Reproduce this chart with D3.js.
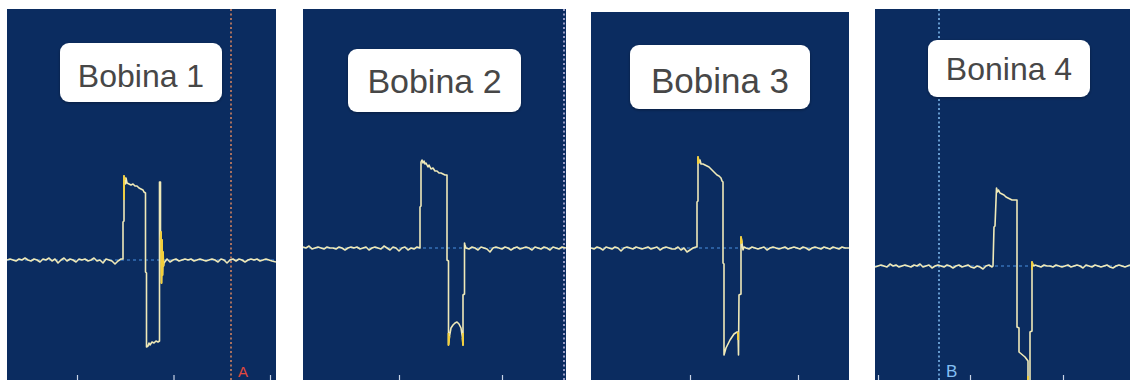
<!DOCTYPE html>
<html>
<head>
<meta charset="utf-8">
<script src="https://cdn.jsdelivr.net/npm/d3@7"></script>
<style>
  html, body { margin: 0; padding: 0; background: #ffffff; }
  svg { display: block; }
</style>
</head>
<body>
<svg id="chart" width="1130" height="381"></svg>
<script>
// Coil captures: time in samples, voltage in display units (0 = trigger baseline).
const coilNames = ["Bobina 1", "Bobina 2", "Bobina 3", "Bonina 4"];

const trace1 = [
  [0,0],[3,1],[6,0],[9,-1],[12,1],[15,0],[18,2],[21,0],[24,-1],[27,1],[30,0],[33,-2],[36,1],[39,0],[42,2],[45,-1],[48,1],[51,-3],[54,0],[57,2],[60,-1],[63,1],[66,0],[69,-2],[72,1],[75,0],[78,1],[81,-1],[84,0],[87,2],[90,-1],[93,0],[96,-3],[99,1],[102,0],[105,-1],[108,-4],[111,-1],[114,1],
  [116,1],[116,38],[117,39],[117,84],[118,80],[118.5,76],[119,82],[120,77],[122,76],[124,75],[126,76],[128,74],[130,74],[132,72],[134,71],[136,70],[137,68],[138.5,67],
  [138.5,-12],[139.5,-13],[139.5,-87],[141,-86],[142,-83],[143,-85],[145,-82],[147,-83],[149,-81],[151,-82],[152.5,-81],
  [152.5,78],[153.5,78],[153.5,20],[154,28],[154.5,-23],[155,20],[155.5,-15],[156,8],[156.5,-6],[157,-3],
  [160,1],[163,-2],[166,0],[169,1],[172,-1],[175,0],[178,1],[181,0],[184,1],[187,-1],[190,0],[193,1],[196,0],[199,-1],[202,0],[205,1],[208,0],[211,-2],[214,1],[217,0],[220,-3],[223,0],[226,1],[229,-1],[232,1],[235,0],[238,-2],[241,0],[244,1],[247,0],[250,1],[253,-1],[256,0],[259,1],[262,0],[265,-1],[269,-2]
];

const trace2 = [
  [0,1],[3,0],[6,2],[9,-1],[12,0],[15,1],[18,0],[21,-1],[24,1],[27,0],[30,0],[33,-1],[36,1],[39,0],[42,-2],[45,0],[48,1],[51,0],[54,1],[57,-1],[60,0],[63,1],[66,-2],[69,0],[72,1],[75,0],[78,-1],[81,2],[84,0],[87,-2],[90,1],[93,0],[96,-3],[99,0],[102,1],[105,-2],[108,0],[111,-1],[114,1],
  [117,0],[117,41],[118,42],[118,86],[119,88],[120,85],[121,87],[122,84],[123,85],[125,81],[126,83],[128,79],[130,80],[132,77],[134,77],[136,75],[138,75],[140,74],[142,73],[144,73],
  [144,-12],[145.5,-13],[145.5,-97],[146.5,-88],[148,-80],[150,-77],[152,-75],[154,-74],[156,-76],[158,-80],[159.5,-90],[160,-97],
  [160,-47],[161.5,-46],[161.5,5],[162,3],[163,0],
  [166,-1],[169,1],[172,0],[175,-2],[178,1],[181,0],[184,-1],[187,-4],[190,0],[193,1],[196,0],[199,-1],[202,1],[205,0],[208,-2],[211,0],[214,1],[217,-1],[220,0],[223,1],[226,0],[229,-2],[232,1],[235,0],[238,-1],[241,1],[244,0],[247,-2],[250,1],[253,0],[256,-1],[259,1],[263,0]
];

const trace3 = [
  [0,0],[3,-1],[6,1],[9,0],[12,-2],[15,1],[18,0],[21,-1],[24,1],[27,0],[30,-3],[33,0],[36,1],[39,0],[42,-1],[45,1],[48,0],[51,-1],[54,0],[57,1],[60,-1],[63,0],[66,1],[69,-2],[72,0],[75,1],[78,0],[81,-1],[84,-1],[87,1],[90,-2],[93,0],[96,-4],[99,-2],[102,0],[105,1],
  [106,1],[106,46],[107,47],[107,91],[108,85],[109,88],[110,84],[112,84],[114,83],[116,82],[118,81],[120,79],[122,77],[124,75],[126,73],[128,72],[130,70],[131,67],[132,66],
  [132,-15],[133,-16],[133,-107],[135,-100],[137,-96],[139,-92],[141,-89],[143,-86],[146,-84],[147,-84],[147.5,-107],
  [148,-47],[150,-46],[150,11],[151,5],[152,-2],[153,1],
  [155,0],[158,-1],[161,1],[164,0],[167,-1],[170,0],[173,1],[176,-2],[179,0],[182,1],[185,0],[188,-1],[191,0],[194,1],[197,-1],[200,0],[203,1],[206,0],[209,-1],[212,1],[215,0],[218,-2],[221,0],[224,1],[227,0],[230,-1],[233,1],[236,0],[239,-1],[242,1],[245,0],[248,-1],[251,1],[254,0],[258,0]
];

const trace4 = [
  [0,-1],[3,0],[6,1],[9,0],[12,-1],[15,2],[18,0],[21,1],[24,-1],[27,0],[30,1],[33,0],[36,-1],[39,1],[42,0],[45,2],[48,-1],[51,0],[54,1],[57,-2],[60,0],[63,1],[66,0],[69,-1],[72,1],[75,0],[78,-2],[81,0],[84,1],[87,-1],[90,0],[93,1],[96,-1],[99,-2],[102,0],[105,-1],[108,-3],[111,0],[114,1],[117,-1],
  [118,0],[119,39],[120,40],[121.5,78],[122.5,74],[123.5,76],[125,73],[127,72],[129,71],[131,69],[133,68],[135,67],[137,66],[142,66],
  [142,-61],[144,-62],[144,-86],[150,-91],[153,-95],[153,-134],[155,-134],[155,-66],[157,-65],[157,4],[158,1],[159,0],
  [160,1],[163,0],[166,-1],[169,1],[172,0],[175,0],[178,-1],[181,1],[184,0],[187,-1],[190,0],[193,1],[196,-1],[199,0],[202,1],[205,0],[208,-2],[211,1],[214,0],[217,-1],[220,1],[223,0],[226,-1],[229,0],[232,1],[235,-1],[238,-2],[241,0],[244,1],[247,0],[250,-1],[255,1]
];

// Brighter yellow stretches of each trace (ringing and edges)
const glow1 = [[[153.5,20],[154,28],[154.5,-23],[155,20],[155.5,-15],[156,8],[156.5,-6]], [[117,60],[117,84],[118,80]]];
const glow2 = [[[145.5,-85],[145.5,-97],[146.5,-88]], [[159.5,-90],[160,-97],[160,-85]]];
const glow3 = [[[107,84],[107,91],[108,85]], [[150,4],[150,11],[151,5]], [[147,-84],[147,-92]]];
const glow4 = [[[153,-110],[153,-134]], [[157,-4],[157,4],[158,1]]];

// Time-axis tick positions (samples) along the bottom edge
const ticks1 = [70, 166.5, 263];
const ticks2 = [96, 199];
const ticks3 = [99, 207];
const ticks4 = [3, 95, 188];

// Cursor markers: [panel index, time sample, label]
const cursors = [[0, 224, "A"], [1, 261, ""], [3, 64, "B"]];

const traces = [trace1, trace2, trace3, trace4];
const glows = [glow1, glow2, glow3, glow4];
const tickSets = [ticks1, ticks2, ticks3, ticks4];

// Screen layout for each capture
const layout = [
  { left: 7,   right: 276,  top: 9,  bottom: 380, base: 260,
    box: { x: 60,  y: 43, w: 162, h: 59 }, font: 32, textY: 87 },
  { left: 303, right: 566,  top: 9,  bottom: 380, base: 248,
    box: { x: 348, y: 49, w: 173, h: 63 }, font: 34, textY: 93 },
  { left: 591, right: 849,  top: 12, bottom: 380, base: 248,
    box: { x: 630, y: 45, w: 180, h: 64 }, font: 35, textY: 93 },
  { left: 875, right: 1130, top: 9,  bottom: 380, base: 266,
    box: { x: 928, y: 40, w: 162, h: 57 }, font: 32, textY: 80 }
];
const cursorStyle = [
  { color: "#e0875e", text: "#e2483c" },
  { color: "#c4bde2", text: "#c4bde2" },
  null,
  { color: "#84c0f4", text: "#84c0f4" }
];

const svg = d3.select("#chart");
const defs = svg.append("defs");
const shadow = defs.append("filter").attr("id", "boxShadow")
  .attr("x", "-10%").attr("y", "-10%").attr("width", "120%").attr("height", "130%");
shadow.append("feDropShadow").attr("dx", 0).attr("dy", 1).attr("stdDeviation", 1.5)
  .attr("flood-color", "#000").attr("flood-opacity", 0.35);

layout.forEach((p, i) => {
  const x = d3.scaleLinear().domain([0, p.right - p.left]).range([p.left, p.right]);
  const y = d3.scaleLinear().domain([-(p.bottom - p.base), p.base - p.top]).range([p.bottom, p.top]);

  defs.append("clipPath").attr("id", "clip" + i)
    .append("rect").attr("x", p.left).attr("y", p.top)
    .attr("width", p.right - p.left).attr("height", p.bottom - p.top);

  const g = svg.append("g").attr("clip-path", `url(#clip${i})`);

  g.append("rect")
    .attr("x", p.left).attr("y", p.top)
    .attr("width", p.right - p.left).attr("height", p.bottom - p.top)
    .attr("fill", "#0b2c60");

  // Zero reference line
  g.append("line")
    .attr("x1", x(0)).attr("x2", x(p.right - p.left))
    .attr("y1", y(0)).attr("y2", y(0))
    .attr("stroke", "#4a8fe0").attr("stroke-width", 1.2)
    .attr("stroke-dasharray", "3,3");

  // Bottom time ticks
  const axis = d3.axisBottom(x).tickValues(tickSets[i]).tickSize(5).tickFormat("");
  const ag = g.append("g").attr("transform", `translate(0,${p.bottom - 5})`).call(axis);
  ag.select(".domain").remove();
  ag.selectAll(".tick line").attr("stroke", "#c9d4e6").attr("stroke-width", 1.2);

  // Cursor lines
  cursors.filter(c => c[0] === i).forEach(c => {
    const st = cursorStyle[i];
    g.append("line")
      .attr("x1", x(c[1])).attr("x2", x(c[1]))
      .attr("y1", p.top).attr("y2", p.bottom)
      .attr("stroke", st.color).attr("stroke-width", 1.5)
      .attr("stroke-dasharray", "2,2.5");
    if (c[2]) {
      g.append("text")
        .attr("x", x(c[1]) + 7).attr("y", p.bottom - 3)
        .attr("fill", st.text)
        .attr("font-family", "Liberation Sans, Arial, sans-serif")
        .attr("font-size", i === 0 ? 15 : 17)
        .text(c[2]);
    }
  });

  const line = d3.line().x(d => x(d[0])).y(d => y(d[1])).curve(d3.curveLinear);

  g.append("path")
    .datum(traces[i])
    .attr("d", line)
    .attr("fill", "none")
    .attr("stroke", "#efe9b8")
    .attr("stroke-width", 1.6)
    .attr("stroke-linejoin", "round");

  glows[i].forEach(seg => {
    g.append("path")
      .datum(seg)
      .attr("d", line)
      .attr("fill", "none")
      .attr("stroke", "#f3cf3a")
      .attr("stroke-width", 1.8)
      .attr("stroke-linejoin", "round");
  });

  // Title badge
  svg.append("rect")
    .attr("x", p.box.x).attr("y", p.box.y)
    .attr("width", p.box.w).attr("height", p.box.h)
    .attr("rx", 9).attr("ry", 9)
    .attr("fill", "#ffffff")
    .attr("filter", "url(#boxShadow)");
  svg.append("text")
    .attr("x", p.box.x + p.box.w / 2).attr("y", p.textY)
    .attr("text-anchor", "middle")
    .attr("fill", "#474747")
    .attr("font-family", "Liberation Sans, Arial, sans-serif")
    .attr("font-size", p.font)
    .text(coilNames[i]);
});
</script>
</body>
</html>
